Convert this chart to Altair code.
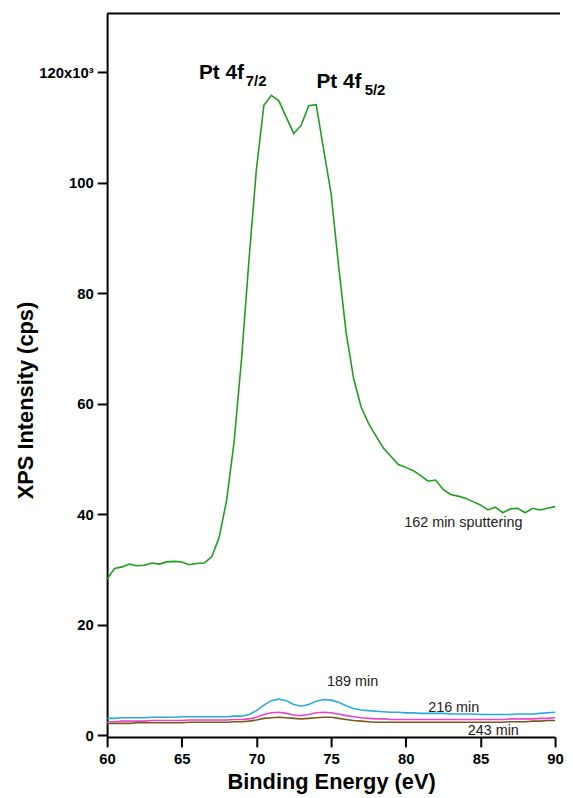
import altair as alt
import pandas as pd

energy = [60.0, 60.5, 61.0, 61.5, 62.0, 62.5, 63.0, 63.5, 64.0, 64.5,
          65.0, 65.5, 66.0, 66.5, 67.0, 67.5, 68.0, 68.5, 69.0, 69.5,
          70.0, 70.5, 71.0, 71.5, 72.0, 72.5, 73.0, 73.5, 74.0, 74.5,
          75.0, 75.5, 76.0, 76.5, 77.0, 77.5, 78.0, 78.5, 79.0, 79.5,
          80.0, 80.5, 81.0, 81.5, 82.0, 82.5, 83.0, 83.5, 84.0, 84.5,
          85.0, 85.5, 86.0, 86.5, 87.0, 87.5, 88.0, 88.5, 89.0, 89.5, 90.0]

# intensities in units of 10^3 cps
min162 = [28.3, 30.2, 30.5, 31.0, 30.7, 30.8, 31.2, 31.0, 31.4, 31.5,
          31.4, 30.9, 31.1, 31.2, 32.3, 35.8, 42.5, 53.0, 68.0, 86.0,
          102.5, 114.0, 115.8, 114.8, 111.8, 108.9, 110.4, 113.9, 114.1, 106.0,
          98.0, 85.0, 73.0, 64.7, 59.5, 56.5, 54.2, 52.0, 50.5, 49.0,
          48.5, 47.9, 47.0, 46.0, 46.2, 44.5, 43.6, 43.3, 42.9, 42.3,
          41.7, 40.8, 41.3, 40.3, 41.0, 41.1, 40.3, 41.1, 40.8, 41.1, 41.4]

min189 = [3.1, 3.1, 3.2, 3.2, 3.2, 3.2, 3.3, 3.3, 3.3, 3.3,
          3.4, 3.4, 3.4, 3.4, 3.4, 3.4, 3.4, 3.5, 3.5, 3.8,
          4.5, 5.5, 6.3, 6.6, 6.3, 5.6, 5.3, 5.6, 6.2, 6.5,
          6.4, 6.0, 5.4, 4.9, 4.6, 4.5, 4.4, 4.3, 4.2, 4.2,
          4.1, 4.1, 4.0, 4.0, 4.0, 4.0, 3.9, 3.9, 3.9, 3.9,
          3.8, 3.8, 3.8, 3.8, 3.8, 3.9, 3.9, 3.9, 4.0, 4.1, 4.2]

min216 = [2.5, 2.5, 2.6, 2.6, 2.6, 2.6, 2.7, 2.7, 2.7, 2.7,
          2.7, 2.8, 2.8, 2.8, 2.8, 2.8, 2.8, 2.9, 2.9, 3.0,
          3.3, 3.8, 4.1, 4.2, 4.0, 3.7, 3.6, 3.8, 4.1, 4.2,
          4.1, 3.9, 3.6, 3.4, 3.2, 3.1, 3.0, 3.0, 2.9, 2.9,
          2.9, 2.9, 2.9, 2.9, 2.9, 2.9, 2.9, 2.9, 2.9, 2.9,
          2.9, 2.9, 2.9, 2.9, 3.0, 3.0, 3.0, 3.0, 3.1, 3.1, 3.2]

min243 = [2.2, 2.2, 2.2, 2.2, 2.3, 2.3, 2.3, 2.3, 2.3, 2.3,
          2.3, 2.4, 2.4, 2.4, 2.4, 2.4, 2.4, 2.5, 2.5, 2.6,
          2.8, 3.1, 3.2, 3.3, 3.2, 3.1, 3.0, 3.1, 3.2, 3.3,
          3.3, 3.1, 2.9, 2.7, 2.6, 2.5, 2.4, 2.4, 2.4, 2.4,
          2.4, 2.4, 2.4, 2.4, 2.4, 2.4, 2.4, 2.4, 2.4, 2.4,
          2.4, 2.4, 2.4, 2.4, 2.5, 2.5, 2.5, 2.6, 2.6, 2.7, 2.7]

series_names = ["162 min", "243 min", "216 min", "189 min"]
series_colors = ["#1f9e1f", "#7a5a1c", "#e846c4", "#2aa8e6"]

x_ticks = [60, 65, 70, 75, 80, 85, 90]
y_ticks = [0, 20, 40, 60, 80, 100, 120]

# annotations (energy, intensity, text)
peak_labels = ["Pt 4f", "Pt 4f"]
peak_x = [66.15, 74.02]
peak_y = [118.7, 117.2]
sub_labels = ["7/2", "5/2"]
sub_x = [69.29, 77.25]
sub_y = [117.4, 115.8]
curve_labels = ["162 min sputtering", "189 min", "216 min", "243 min"]
curve_label_x = [79.9, 74.73, 81.5, 84.15]
curve_label_y = [37.8, 9.0, 4.3, 0.15]

rows = []
for name, vals in zip(series_names,
                      [min162, min243, min216, min189]):
    for e, v in zip(energy, vals):
        rows.append({"energy": e, "intensity": v, "series": name})
df = pd.DataFrame(rows)

W, H = 452, 730
FONT = "Liberation Sans"

xs = alt.Scale(domain=[60, 90], nice=False, zero=False)
ys = alt.Scale(domain=[-0.27, 130.6], nice=False, zero=False)

lines = alt.Chart(df).mark_line(strokeWidth=1.6, clip=True).encode(
    x=alt.X("energy:Q", scale=xs,
            axis=alt.Axis(values=x_ticks, title="Binding Energy (eV)",
                          titleFontSize=22, titleY=52, titleBaseline="alphabetic",
                          labelPadding=5, labelFlush=False)),
    y=alt.Y("intensity:Q", scale=ys,
            axis=alt.Axis(values=y_ticks, title="XPS Intensity (cps)",
                          labelExpr="datum.value == 120 ? '120x10³' : datum.label",
                          titleFontSize=22, titleAngle=-90, titleX=-75, titleY=390,
                          titleAlign="center", titleBaseline="alphabetic",
                          labelPadding=4, labelFlush=False)),
    color=alt.Color("series:N", scale=alt.Scale(domain=series_names, range=series_colors),
                    legend=None),
    order=alt.Order("energy:Q"),
)

frame_top = alt.Chart(pd.DataFrame({"a": [0]})).mark_rule(
    color="black", strokeWidth=2).encode(
    x=alt.value(0), x2=alt.value(W + 5), y=alt.value(0))

peak_df = pd.DataFrame({"x": peak_x, "y": peak_y, "t": peak_labels})
sub_df = pd.DataFrame({"x": sub_x, "y": sub_y, "t": sub_labels})
cl_df = pd.DataFrame({"x": curve_label_x, "y": curve_label_y, "t": curve_labels})

peaks = alt.Chart(peak_df).mark_text(
    align="left", baseline="alphabetic", font=FONT, fontSize=21,
    fontWeight="bold", color="black").encode(
    x=alt.X("x:Q", scale=xs), y=alt.Y("y:Q", scale=ys), text="t:N")

subs = alt.Chart(sub_df).mark_text(
    align="left", baseline="alphabetic", font=FONT, fontSize=15,
    fontWeight="bold", color="black").encode(
    x=alt.X("x:Q", scale=xs), y=alt.Y("y:Q", scale=ys), text="t:N")

clabels = alt.Chart(cl_df).mark_text(
    align="left", baseline="alphabetic", font=FONT, fontSize=14.5,
    color="#222222").encode(
    x=alt.X("x:Q", scale=xs), y=alt.Y("y:Q", scale=ys), text="t:N")

chart = alt.layer(lines, frame_top, peaks, subs, clabels).properties(
    width=W, height=H,
    autosize=alt.AutoSizeParams(type="none"),
    padding={"left": 100, "top": 2, "right": 10, "bottom": 56},
).configure_view(stroke=None).configure_axis(
    grid=False,
    domainColor="black", domainWidth=2,
    tickColor="black", tickWidth=2, tickSize=10,
    labelFont=FONT, labelFontSize=15, labelFontWeight="bold", labelColor="black",
    titleFont=FONT, titleFontWeight="bold", titleColor="black",
)

chart.save("out.html", embed_options={"renderer": "svg", "actions": False})
